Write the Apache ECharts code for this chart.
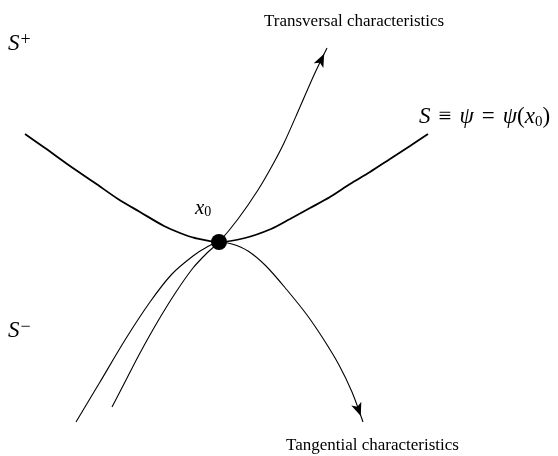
<!DOCTYPE html>
<html>
<head>
<meta charset="utf-8">
<style>html,body{margin:0;padding:0;background:#fff}#c{width:558px;height:456px}</style>
<script src="https://cdn.jsdelivr.net/npm/echarts@6/dist/echarts.min.js"></script>
</head>
<body>
<div id="c"></div>
<script>
// Curve S ≡ ψ = ψ(x0)
const sCurve = [[25,134],[45,148],[70,166],[95,183],[118,199],[140,212],[164,226],[180,233],[195,238],[219,242],[245,238],[271,229],[290,219],[310,208],[330,197],[350,184],[370,172],[390,159],[410,146],[428,134]];
// Transversal characteristic (bottom -> arrow tip)
const transversal = [[112,407],[126,380],[140,353],[158,321],[176,292],[193,268],[207,253],[219,242],[238,219],[258,190],[272,166],[284,143],[300,107],[314,75],[327,48]];
// Tangential characteristic (bottom-left -> arrow tip)
const tangential = [[76,422],[100,382],[125,340],[150,302],[172,274],[193,256],[207,247],[219,242],[232,244],[248,251],[266,266],[287,290],[307,315],[324,340],[339,365],[352,392],[363,422]];
// Point x0
const x0Point = [[219,242]];

const SERIF = '"Liberation Serif","DejaVu Serif",serif';

function arrowItem(pts){
  const a = pts[pts.length-2], b = pts[pts.length-1];
  const dx = b[0]-a[0], dy = b[1]-a[1];
  const L = Math.hypot(dx,dy), ux = dx/L, uy = dy/L;
  const h = 13;
  return {
    value: b,
    symbolRotate: Math.atan2(-dx,-dy)*180/Math.PI,
    symbolOffset: [-ux*h/2, -uy*h/2]
  };
}

const chart = echarts.init(document.getElementById('c'), null, {renderer:'canvas'});
chart.setOption({
  animation:false,
  backgroundColor:'#fff',
  grid:{left:0,right:0,top:0,bottom:0},
  xAxis:{type:'value',min:0,max:558,show:false},
  yAxis:{type:'value',min:0,max:456,inverse:true,show:false},
  series:[
    {type:'line',data:sCurve,smooth:0.3,symbol:'none',lineStyle:{color:'#000',width:1.8}},
    {type:'line',data:transversal,smooth:0.3,symbol:'none',lineStyle:{color:'#000',width:1.1}},
    {type:'line',data:tangential,smooth:0.3,symbol:'none',lineStyle:{color:'#000',width:1.1}},
    {type:'scatter',symbol:'arrow',symbolSize:[8,13],itemStyle:{color:'#000',opacity:1},
     data:[arrowItem(transversal),arrowItem(tangential)],z:5},
    {type:'scatter',data:x0Point,symbol:'circle',symbolSize:16,itemStyle:{color:'#000',opacity:1},z:6}
  ],
  graphic:[
    {type:'text',left:264,top:13,style:{text:'Transversal characteristics',font:'17px '+SERIF,fill:'#000'}},
    {type:'text',left:286,top:437,style:{text:'Tangential characteristics',font:'17px '+SERIF,fill:'#000'}},
    {type:'text',left:8,top:31,style:{text:'{s|S}{p|+}',rich:{
      s:{fontFamily:SERIF,fontStyle:'italic',fontSize:23,lineHeight:26,fill:'#000'},
      p:{fontFamily:SERIF,fontSize:18,lineHeight:18,verticalAlign:'top',padding:[0,0,0,1],fill:'#000'}}}},
    {type:'text',left:8,top:318,style:{text:'{s|S}{p|−}',rich:{
      s:{fontFamily:SERIF,fontStyle:'italic',fontSize:23,lineHeight:26,fill:'#000'},
      p:{fontFamily:SERIF,fontSize:18,lineHeight:18,verticalAlign:'top',padding:[0,0,0,1],fill:'#000'}}}},
    {type:'text',left:195,top:198,style:{text:'{s|x}{b|0}',rich:{
      s:{fontFamily:SERIF,fontStyle:'italic',fontSize:21,lineHeight:22,fill:'#000'},
      b:{fontFamily:SERIF,fontSize:14,lineHeight:14,verticalAlign:'bottom',fill:'#000'}}}},
    {type:'text',left:419,top:105,style:{text:'{s|S}{n|≡}{s|ψ}{n|=}{s|ψ}{m|(}{s|x}{b|0}{m|)}',rich:{
      s:{fontFamily:SERIF,fontStyle:'italic',fontSize:23,lineHeight:26,fill:'#000'},
      n:{fontFamily:SERIF,fontSize:23,lineHeight:26,padding:[0,8,0,8],fill:'#000'},
      m:{fontFamily:SERIF,fontSize:23,lineHeight:26,fill:'#000'},
      b:{fontFamily:SERIF,fontSize:15,lineHeight:15,verticalAlign:'bottom',fill:'#000'}}}}
  ]
});
</script>
</body>
</html>
